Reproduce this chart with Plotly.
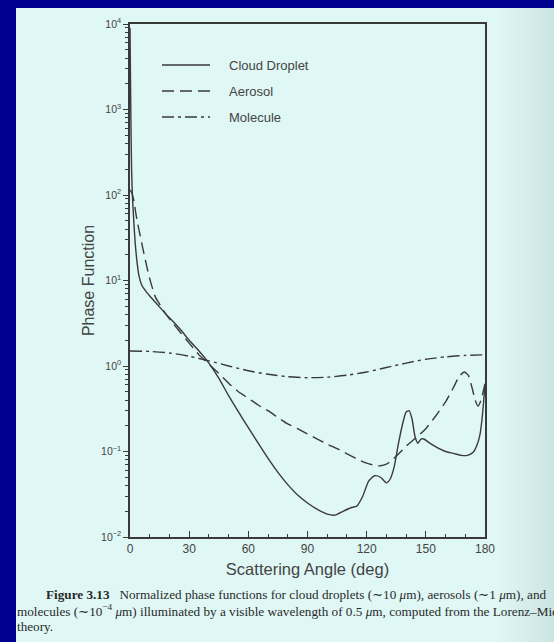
import plotly.graph_objects as go

# ---------------- data ----------------
cloud_angle = [0, 0.4, 0.8, 1.2, 1.8, 2.6, 3.5, 4.5, 6, 8, 10, 14, 18, 22, 26, 30, 35, 40, 45,
               50, 55, 60, 65, 70, 75, 80, 85, 90, 95, 100, 104, 108, 112, 115, 118, 121, 124,
               127, 130, 132, 134, 136, 138, 140, 141.5, 143, 144.5, 146, 147.5, 149, 152, 156,
               160, 164, 168, 171, 174, 176, 177.5, 178.5, 179.3, 180]
cloud_val = [9000, 1000, 200, 100, 55, 28, 17, 11.5, 8.8, 7.5, 6.6, 5.2, 4.1, 3.3, 2.6, 2.0, 1.5,
             1.08, 0.72, 0.45, 0.29, 0.19, 0.125, 0.083, 0.057, 0.041, 0.031, 0.025, 0.021,
             0.0185, 0.018, 0.02, 0.022, 0.023, 0.03, 0.045, 0.052, 0.05, 0.043, 0.048, 0.067,
             0.12, 0.2, 0.29, 0.3, 0.24, 0.15, 0.125, 0.14, 0.14, 0.125, 0.11, 0.1, 0.095, 0.09,
             0.09, 0.098, 0.12, 0.16, 0.24, 0.38, 0.6]

aerosol_angle = [0, 1, 2, 3, 4, 5, 6, 7, 8, 9, 10, 11, 12, 13, 15, 18, 22, 26, 30, 35, 40, 45,
                 50, 55, 60, 65, 70, 75, 80, 85, 90, 95, 100, 105, 110, 115, 120, 124, 127, 130,
                 133, 136, 140, 145, 150, 155, 160, 164, 167, 169.5, 171.5, 173.5, 175, 176.5,
                 178, 180]
aerosol_val = [115, 105, 85, 60, 45, 35, 27, 21, 16.5, 13, 10.5, 8.7, 7.3, 6.3, 5.3, 4.1, 3.1,
               2.4, 1.85, 1.35, 1.05, 0.82, 0.63, 0.5, 0.42, 0.35, 0.3, 0.25, 0.21, 0.185, 0.16,
               0.14, 0.122, 0.108, 0.094, 0.082, 0.073, 0.069, 0.068, 0.071, 0.08, 0.093, 0.115,
               0.145, 0.185, 0.26, 0.38, 0.56, 0.76, 0.85, 0.78, 0.55, 0.4, 0.34, 0.4, 0.62]

molecule_angle = [0, 10, 20, 30, 40, 50, 60, 70, 80, 90, 100, 110, 120, 130, 140, 150, 160, 170, 180]
molecule_val = [1.5, 1.48, 1.42, 1.3, 1.15, 1.0, 0.88, 0.8, 0.75, 0.73, 0.74, 0.78, 0.85, 0.96,
                1.08, 1.2, 1.28, 1.33, 1.35]

series_names = ["Cloud Droplet", "Aerosol", "Molecule"]

x_ticks = [0, 30, 60, 90, 120, 150, 180]
y_tick_exp = [-2, -1, 0, 1, 2, 3, 4]

x_title = "Scattering Angle (deg)"
y_title = "Phase Function"
caption_lines = [
    "<b>Figure 3.13</b>   Normalized phase functions for cloud droplets (∼10 <i>μ</i>m), aerosols (∼1 <i>μ</i>m), and",
    "molecules (∼10<sup>−4</sup> <i>μ</i>m) illuminated by a visible wavelength of 0.5 <i>μ</i>m, computed from the Lorenz–Mie",
    "theory.",
]

# ---------------- styling ----------------
W, H = 554, 642
ML, MR, MT, MB = 130, 69, 24, 105
PW, PH = W - ML - MR, H - MT - MB
def px_x(p):
    return (p - ML) / PW
def px_y(p):
    return (H - MB - p) / PH

LINE = "#3a3a3a"
PAGE = "#dff7f5"
BORDER = "#00008e"
SANS = "Liberation Sans, Arial, Helvetica, sans-serif"
SERIF = "Liberation Serif, Times New Roman, serif"
dashes = ["solid", "12px,6px", "12px,4px,3px,4px"]

fig = go.Figure()
for name, xs, ys, d in zip(series_names,
                           [cloud_angle, aerosol_angle, molecule_angle],
                           [cloud_val, aerosol_val, molecule_val], dashes):
    fig.add_trace(go.Scatter(x=xs, y=ys, mode="lines", name=name, showlegend=False,
                             line=dict(color=LINE, width=1.4, dash=d, shape="spline",
                                       smoothing=0.6)))

shapes = [
    # page
    dict(type="rect", xref="paper", yref="paper", x0=px_x(16), x1=px_x(W + 20),
         y0=px_y(H + 20), y1=px_y(8), fillcolor=PAGE, line=dict(width=0), layer="below"),
]
# subtle page-curvature shading at the right edge
for sx in range(498, W, 3):
    shapes.append(dict(type="rect", xref="paper", yref="paper", x0=px_x(sx), x1=px_x(W + 20),
                       y0=px_y(H + 20), y1=px_y(8), fillcolor="rgba(110,140,140,0.009)",
                       line=dict(width=0), layer="below"))

annotations = []
# custom legend (line samples + labels)
leg_y = [65, 91, 117]
for name, d, yy in zip(series_names, dashes, leg_y):
    shapes.append(dict(type="line", xref="paper", yref="paper", x0=px_x(162), x1=px_x(210),
                       y0=px_y(yy), y1=px_y(yy), line=dict(color=LINE, width=1.4, dash=d)))
    annotations.append(dict(xref="paper", yref="paper", x=px_x(227), y=px_y(yy), text=name,
                            showarrow=False, xanchor="left", yanchor="middle",
                            font=dict(family=SANS, size=13, color="#444")))

cap_pos = [(45, 594), (16, 610), (16, 626)]
for txt, (cx, cy) in zip(caption_lines, cap_pos):
    annotations.append(dict(xref="paper", yref="paper", x=px_x(cx), y=px_y(cy), text=txt,
                            showarrow=False, xanchor="left", yanchor="middle", borderpad=0,
                            font=dict(family=SERIF, size=13.2, color="#2a2a2a")))

y_minor = [m * 10 ** e for e in y_tick_exp[:-1] for m in range(2, 10)]

fig.update_layout(
    width=W, height=H,
    margin=dict(l=ML, r=MR, t=MT, b=MB),
    paper_bgcolor=BORDER,
    plot_bgcolor="rgba(0,0,0,0)",
    shapes=shapes,
    annotations=annotations,
    font=dict(family=SANS, color="#444"),
    xaxis=dict(range=[0, 180], tickmode="array", tickvals=x_ticks,
               ticks="inside", ticklen=6, tickwidth=1.2, tickcolor=LINE,
               minor=dict(tickmode="array", tickvals=list(range(10, 180, 10)),
                          ticks="inside", ticklen=3, tickwidth=1.2, tickcolor=LINE),
               showline=True, linecolor=LINE, linewidth=1.5, mirror=True,
               showgrid=False, zeroline=False,
               tickfont=dict(family=SANS, size=12, color="#444"),
               title=dict(text=x_title, standoff=8, font=dict(family=SANS, size=16.5, color="#444"))),
    yaxis=dict(type="log", range=[-2, 4], tickmode="array",
               tickvals=[10 ** e for e in y_tick_exp],
               ticktext=["10<sup>%s</sup>" % (("−%d" % -e) if e < 0 else str(e)) for e in y_tick_exp],
               ticks="outside", ticklen=5, tickwidth=1.2, tickcolor=LINE,
               minor=dict(tickmode="array", tickvals=y_minor, ticks="outside", ticklen=3,
                          tickwidth=1, tickcolor=LINE),
               showline=True, linecolor=LINE, linewidth=1.5, mirror=True,
               showgrid=False, zeroline=False,
               tickfont=dict(family=SANS, size=10.5, color="#444"),
               title=dict(text=y_title, standoff=2, font=dict(family=SANS, size=16, color="#444"))),
)

fig.write_html("out.html")
